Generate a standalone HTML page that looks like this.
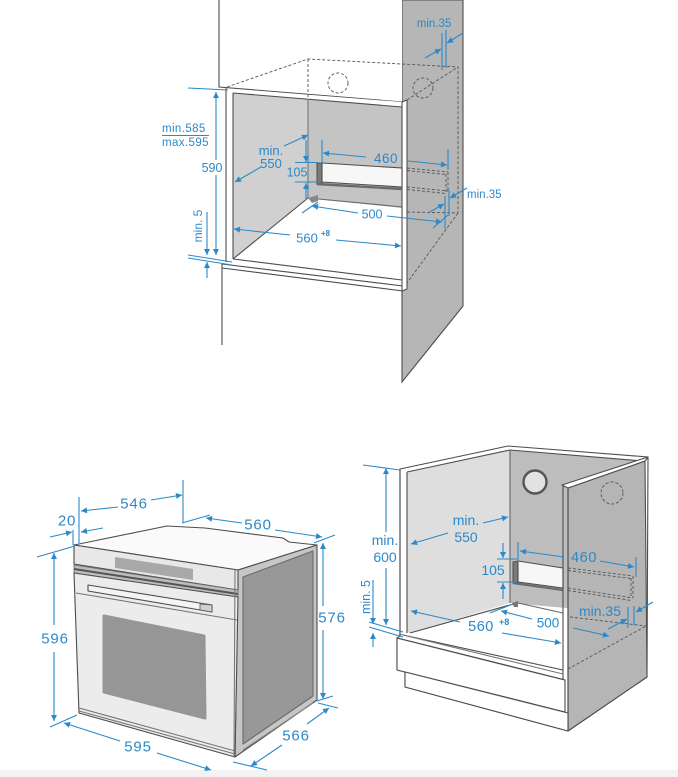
<!DOCTYPE html>
<html><head><meta charset="utf-8"><style>
html,body{margin:0;padding:0;background:#fff;}
svg{display:block;}
text{font-family:"Liberation Sans",sans-serif;fill:#2b89c9;}
</style></head><body>
<svg width="678" height="777" viewBox="0 0 678 777" xmlns="http://www.w3.org/2000/svg">
<defs>
<marker id="ar" viewBox="0 0 10 10" refX="10" refY="5" markerWidth="10" markerHeight="6" markerUnits="userSpaceOnUse" orient="auto"><path d="M0,0L10,5L0,10z" fill="#2b89c9"/></marker>
</defs>
<rect x="0" y="0" width="678" height="777" fill="#fff"/>
<rect x="0" y="770" width="678" height="7" fill="#f3f3f3"/>

<!-- ================= TOP DRAWING ================= -->
<g stroke="#4d4d4d" stroke-width="1.1" fill="none">
  <polygon points="402,0 463,0 463,306 402,382" fill="#b6b6b6"/>
  <polygon points="219,-2 402,-2 402,102 219,87" fill="#fff" stroke="none"/>
  <polyline points="219,0 219,87 402,102"/>
  <!-- niche base -->
  <polygon points="222,88 402,102 402,290 222,266" fill="#fff" stroke="none"/>
  <polygon points="233,93 308,99 308,198 233,259" fill="#d0d0d0" stroke="none"/>
  <polygon points="308,99 402,107 402,208 308,198" fill="#c4c4c4" stroke="none"/>
  <line x1="233" y1="93" x2="402" y2="107"/>
  <line x1="308" y1="99" x2="308" y2="198" stroke="#777"/>
  <line x1="308" y1="198" x2="402" y2="207" stroke="#666"/>
  <line x1="233" y1="259" x2="308" y2="198"/>
  <line x1="226" y1="88" x2="226" y2="262"/>
  <line x1="233" y1="93" x2="233" y2="259"/>
  <line x1="233" y1="259" x2="402" y2="280"/>
  <line x1="222" y1="264" x2="403" y2="286"/>
  <line x1="222" y1="268" x2="403" y2="291"/>
  <line x1="222" y1="264" x2="222" y2="345"/>
  <!-- right panel front strip -->
  <polygon points="402,102 407,100 407,289 402,291" fill="#fff"/>
  <!-- slot -->
  <polygon points="317,163 322,163 322,183 317,184" fill="#7a7a7a" stroke="#555"/>
  <polygon points="322,163 402,168 402,187 322,182" fill="#f7f7f7"/>
  <line x1="317" y1="184" x2="402" y2="189" stroke-width="2.4" stroke="#6a6a6a"/>
  <polygon points="308,198 318,195 318,201 312,203" fill="#888" stroke="none"/>
</g>
<g stroke="#555" stroke-width="0.9" fill="none" stroke-dasharray="3 2">
  <polyline points="227,87 308,59 458,67 458,213"/>
  <line x1="308" y1="59" x2="308" y2="98"/>
  <line x1="407" y1="100" x2="458" y2="67"/>
  <line x1="407" y1="212" x2="458" y2="213"/>
  <line x1="458" y1="213" x2="407" y2="283"/>
  <circle cx="338" cy="83" r="10"/>
  <circle cx="423" cy="88" r="10"/>
  <line x1="407" y1="168" x2="448" y2="172"/>
  <line x1="407" y1="170.5" x2="446" y2="174.5"/>
  <line x1="407" y1="187" x2="448" y2="191"/>
  <line x1="407" y1="189.5" x2="446" y2="193.5"/>
  <line x1="448" y1="172" x2="448" y2="192"/>
  <line x1="446" y1="174" x2="446" y2="192"/>
</g>
<!-- top dims -->
<g stroke="#2b89c9" stroke-width="1.1" fill="none">
  <line x1="188" y1="88" x2="228" y2="90"/>
  <line x1="188" y1="255" x2="232" y2="262"/>
  <line x1="188" y1="258" x2="232" y2="265"/>
  <line x1="162" y1="135.5" x2="209" y2="135.5"/>
  <path d="M216,160 L216,92" marker-end="url(#ar)"/>
  <path d="M216,175 L216,255" marker-end="url(#ar)"/>
  <path d="M207,212 L207,255" marker-end="url(#ar)"/>
  <path d="M207,278 L207,262" marker-end="url(#ar)"/>
  <path d="M284,146 L308,135" marker-end="url(#ar)"/>
  <path d="M261,167 L235,182" marker-end="url(#ar)"/>
  <line x1="295" y1="162.5" x2="318" y2="162.5"/>
  <line x1="295" y1="182" x2="318" y2="182"/>
  <path d="M306,140 L306,162" marker-end="url(#ar)"/>
  <path d="M306,200 L306,183" marker-end="url(#ar)"/>
  <line x1="322" y1="140" x2="322" y2="163"/>
  <line x1="448" y1="149" x2="448" y2="170"/>
  <path d="M366,157 L323,153" marker-end="url(#ar)"/>
  <path d="M408,161 L447,165" marker-end="url(#ar)"/>
  <line x1="302" y1="213" x2="318" y2="202"/>
  <line x1="433" y1="228" x2="448" y2="215"/>
  <path d="M358,213 L312,206" marker-end="url(#ar)"/>
  <path d="M387,216 L442,222" marker-end="url(#ar)"/>
  <path d="M290,235 L234,229" marker-end="url(#ar)"/>
  <path d="M336,240 L401,246" marker-end="url(#ar)"/>
  <line x1="442" y1="33" x2="442" y2="70"/>
  <line x1="446" y1="30" x2="446" y2="68"/>
  <path d="M425,58 L441,49" marker-end="url(#ar)"/>
  <path d="M463,33 L447,43" marker-end="url(#ar)"/>
  <line x1="445" y1="196" x2="445" y2="229"/>
  <line x1="449" y1="190" x2="449" y2="216"/>
  <path d="M428,213 L444,204" marker-end="url(#ar)"/>
  <path d="M467,188 L450,198" marker-end="url(#ar)"/>
</g>
<text x="434" y="27" font-size="11.5" text-anchor="middle">min.35</text>
<text x="162" y="132" font-size="11.5" letter-spacing="0.4">min.585</text>
<text x="162" y="146" font-size="11.5" letter-spacing="0.4">max.595</text>
<text x="212" y="172" font-size="12.5" text-anchor="middle">590</text>
<text x="202" y="226" font-size="12" text-anchor="middle" transform="rotate(-90 202 226)" dy="0">min. 5</text>
<text x="271" y="155" font-size="13" text-anchor="middle">min.</text>
<text x="271" y="168" font-size="13" text-anchor="middle">550</text>
<text x="297" y="176.5" font-size="12.5" text-anchor="middle">105</text>
<text x="386" y="163" font-size="13.5" text-anchor="middle" letter-spacing="0.5">460</text>
<text x="372" y="218.5" font-size="12.5" text-anchor="middle">500</text>
<text x="307" y="242.5" font-size="13" text-anchor="middle">560</text>
<text x="321" y="236" font-size="8" font-weight="bold">+8</text>
<text x="467" y="198" font-size="11.5">min.35</text>

<!-- ================= OVEN ================= -->
<g stroke="#4d4d4d" stroke-width="1.1" fill="none" stroke-linejoin="round">
  <polygon points="74,545 162,527 167,526 205,528 283,538 289,542 317,545 238,570" fill="#fafafa"/>
  <polygon points="238,570 317,545 317,700 235,757" fill="#c6c6c6"/>
  <polygon points="243,577 313,551 313,696 243,744" fill="#989898" stroke="#6a6a6a"/>
  <line x1="243" y1="750" x2="313" y2="703" stroke="#888"/>
  <polygon points="74,545 238,570 238,590 74,564" fill="#e8e8e8"/>
  <polygon points="74,565 238,590 238,597 74,573" fill="#bdbdbd" stroke="#666" stroke-width="0.8"/>
  <line x1="74" y1="569" x2="238" y2="594" stroke="#555" stroke-width="2"/>
  <polygon points="74,573 238,597 235,757 79,713" fill="#ececec"/>
  <line x1="76" y1="593" x2="237" y2="620" stroke="#777"/>
  <line x1="79" y1="708" x2="235" y2="751" stroke="#777"/>
  <line x1="79" y1="711" x2="235" y2="754" stroke="#777"/>
  <line x1="235" y1="570" x2="234" y2="757" stroke="#777"/>
  <polygon points="115,557 193,569 193,580 115,568" fill="#a8a8a8" stroke="none"/>
  <polygon points="88,585 212,605 212,612 88,591" fill="#f4f4f4"/>
  <polygon points="200,604 212,605 212,612 200,610" fill="#d0d0d0" stroke="#555" stroke-width="0.8"/>
  <polygon points="104,616 204,636 205,718 104,692" fill="#969696" stroke="#969696" stroke-width="3"/>
</g>
<g stroke="#2b89c9" stroke-width="1.1" fill="none">
  <line x1="79" y1="497" x2="79" y2="543"/>
  <line x1="183" y1="480" x2="183" y2="523"/>
  <path d="M118,507 L81,511" marker-end="url(#ar)"/>
  <path d="M151,500 L182,495" marker-end="url(#ar)"/>
  <line x1="73" y1="530" x2="73" y2="545"/>
  <path d="M50,537 L72,532" marker-end="url(#ar)"/>
  <path d="M103,528 L81,532" marker-end="url(#ar)"/>
  <line x1="182" y1="523" x2="210" y2="515"/>
  <line x1="314" y1="543" x2="335" y2="535"/>
  <path d="M242,523 L206,518" marker-end="url(#ar)"/>
  <path d="M275,530 L322,537" marker-end="url(#ar)"/>
  <path d="M323,606 L323,543" marker-end="url(#ar)"/>
  <path d="M323,630 L323,699" marker-end="url(#ar)"/>
  <line x1="317" y1="701" x2="333" y2="696"/>
  <line x1="37" y1="557" x2="75" y2="546"/>
  <line x1="50" y1="727" x2="77" y2="715"/>
  <path d="M54,625 L54,553" marker-end="url(#ar)"/>
  <path d="M54,652 L54,721" marker-end="url(#ar)"/>
  <path d="M120,741 L64,723" marker-end="url(#ar)"/>
  <path d="M157,753 L211,770" marker-end="url(#ar)"/>
  <line x1="318" y1="703" x2="338" y2="708"/>
  <line x1="233" y1="762" x2="267" y2="770"/>
  <path d="M307,724 L329,708" marker-end="url(#ar)"/>
  <path d="M282,745 L251,766" marker-end="url(#ar)"/>
</g>
<text x="134" y="508.5" font-size="15" text-anchor="middle" letter-spacing="0.8">546</text>
<text x="67" y="525.5" font-size="15" text-anchor="middle" letter-spacing="0.8">20</text>
<text x="258" y="529.5" font-size="15" text-anchor="middle" letter-spacing="0.8">560</text>
<text x="332" y="622.5" font-size="15" text-anchor="middle" letter-spacing="0.8">576</text>
<text x="55" y="643.5" font-size="15" text-anchor="middle" letter-spacing="0.8">596</text>
<text x="138" y="751.5" font-size="15" text-anchor="middle" letter-spacing="0.8">595</text>
<text x="296" y="740.5" font-size="15" text-anchor="middle" letter-spacing="0.8">566</text>

<!-- ================= CABINET (bottom right) ================= -->
<g stroke="#4d4d4d" stroke-width="1.1" fill="none" stroke-linejoin="round">
  <polygon points="400,469 508,446 648,457 647,677 568,731 405,687 405,672 397,670 397,638 400,636" fill="#fff"/>
  <polygon points="407,472 510,450 510,603 410,633 407,633" fill="#dedede" stroke="none"/>
  <polygon points="510,450 645,461 645,615 510,603" fill="#bdbdbd" stroke="none"/>
  <line x1="407" y1="472" x2="510" y2="450"/>
  <line x1="510" y1="450" x2="643" y2="461"/>
  <line x1="510" y1="450" x2="510" y2="603" stroke="#666"/>
  <line x1="410" y1="633" x2="517" y2="603"/>
  <line x1="518" y1="603" x2="563" y2="613" stroke="#666"/>
  <line x1="400" y1="469" x2="400" y2="636"/>
  <line x1="407" y1="472" x2="407" y2="633"/>
  <line x1="403" y1="635" x2="563" y2="670"/>
  <!-- slot -->
  <polygon points="513,562 518,561 518,582 513,583" fill="#7a7a7a" stroke="#555"/>
  <polygon points="518,561 563,568 563,588 518,582" fill="#f7f7f7"/>
  <line x1="513" y1="583" x2="563" y2="590" stroke-width="2.2" stroke="#6a6a6a"/>
  <polygon points="512,603 518,601 518,607 514,607" fill="#777" stroke="none"/>
  <circle cx="535" cy="482" r="11.5" fill="#e2e2e2" stroke="#555" stroke-width="2.4"/>
  <!-- right panel -->
  <polygon points="568,488 645,461 647,677 568,731" fill="#b5b5b5"/>
  <polygon points="562,485 648,457 645,461 568,488" fill="#fff"/>
  <line x1="563" y1="485" x2="563" y2="680"/>
  <line x1="568" y1="488" x2="568" y2="731"/>
  <!-- drawer & plinth -->
  <polygon points="397,638 565,680 565,712 397,670" fill="#fff"/>
  <line x1="399" y1="634" x2="563" y2="674" stroke="#777"/>
  <polygon points="405,672 405,687 568,731 568,713" fill="#fff"/>
  <line x1="397" y1="638" x2="565" y2="680"/>
</g>
<g stroke="#555" stroke-width="0.9" fill="none" stroke-dasharray="3 2">
  <circle cx="612" cy="493" r="11"/>
  <line x1="570" y1="617" x2="646" y2="626"/>
  <line x1="568" y1="669" x2="646" y2="626"/>
  <line x1="568" y1="568" x2="633" y2="576"/>
  <line x1="568" y1="570.5" x2="631" y2="578.5"/>
  <line x1="568" y1="588" x2="633" y2="598"/>
  <line x1="568" y1="590.5" x2="631" y2="600.5"/>
  <line x1="633" y1="576" x2="633" y2="598"/>
  <line x1="631" y1="578" x2="631" y2="598"/>
</g>
<g stroke="#2b89c9" stroke-width="1.1" fill="none">
  <line x1="363" y1="465" x2="400" y2="470"/>
  <path d="M386,532 L386,468" marker-end="url(#ar)"/>
  <path d="M386,568 L386,625" marker-end="url(#ar)"/>
  <line x1="369" y1="622" x2="403" y2="632"/>
  <line x1="369" y1="627" x2="403" y2="637"/>
  <path d="M373,580 L373,624" marker-end="url(#ar)"/>
  <path d="M373,647 L373,633" marker-end="url(#ar)"/>
  <path d="M483,523 L508,517" marker-end="url(#ar)"/>
  <path d="M448,533 L411,544" marker-end="url(#ar)"/>
  <line x1="518" y1="542" x2="518" y2="562"/>
  <line x1="636" y1="557" x2="636" y2="577"/>
  <path d="M564,557 L520,551" marker-end="url(#ar)"/>
  <path d="M600,561 L634,567" marker-end="url(#ar)"/>
  <line x1="497" y1="559" x2="517" y2="559"/>
  <line x1="497" y1="582" x2="517" y2="582"/>
  <path d="M503,543 L503,558" marker-end="url(#ar)"/>
  <path d="M503,599 L503,583" marker-end="url(#ar)"/>
  <path d="M460,622 L411,611" marker-end="url(#ar)"/>
  <path d="M502,633 L561,643" marker-end="url(#ar)"/>
  <line x1="490" y1="613" x2="513" y2="604"/>
  <path d="M532,619 L501,611" marker-end="url(#ar)"/>
  <path d="M573,628 L609,636" marker-end="url(#ar)"/>
  <line x1="628" y1="607" x2="628" y2="628"/>
  <line x1="634" y1="606" x2="634" y2="625"/>
  <path d="M608,629 L627,619" marker-end="url(#ar)"/>
  <path d="M653,602 L636,612" marker-end="url(#ar)"/>
</g>
<text x="385" y="545" font-size="14" text-anchor="middle">min.</text>
<text x="385" y="562" font-size="14" text-anchor="middle">600</text>
<text x="370" y="597" font-size="12.5" text-anchor="middle" transform="rotate(-90 370 597)">min. 5</text>
<text x="466" y="525" font-size="14" text-anchor="middle">min.</text>
<text x="466" y="542" font-size="14" text-anchor="middle">550</text>
<text x="584" y="562" font-size="14.5" text-anchor="middle" letter-spacing="0.6">460</text>
<text x="493" y="575" font-size="14" text-anchor="middle">105</text>
<text x="481" y="631" font-size="14.5" text-anchor="middle" letter-spacing="0.5">560</text>
<text x="499" y="625" font-size="9" font-weight="bold">+8</text>
<text x="548" y="627.5" font-size="13.5" text-anchor="middle">500</text>
<text x="600" y="616" font-size="14" text-anchor="middle">min.35</text>
</svg>
</body></html>
